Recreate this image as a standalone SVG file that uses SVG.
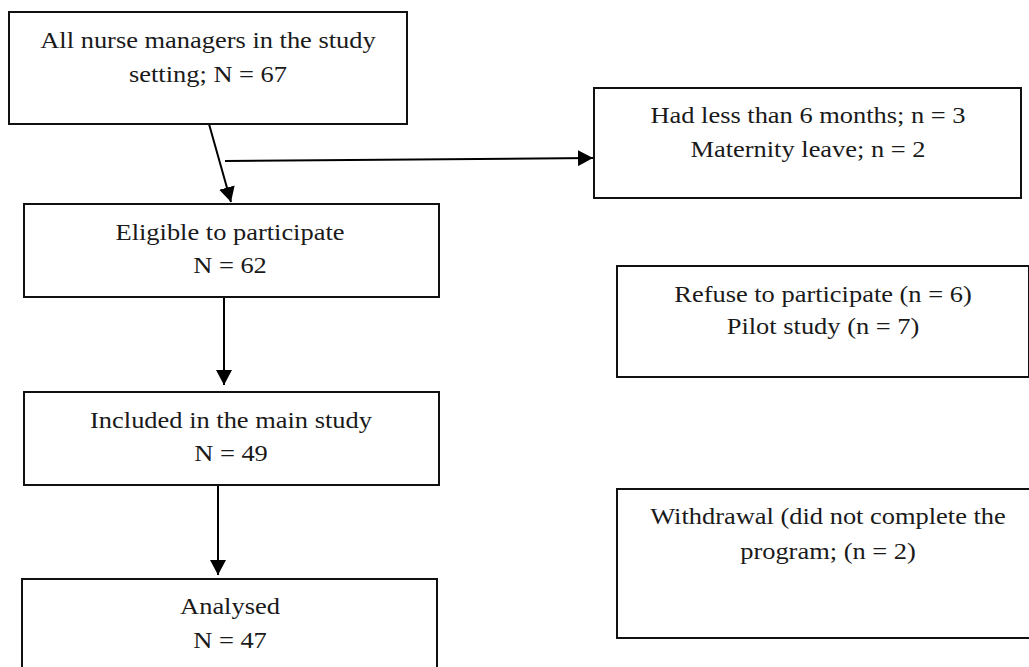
<svg xmlns="http://www.w3.org/2000/svg" width="1029" height="667" viewBox="0 0 1029 667">
<style>
.box{fill:#fff;stroke:#111;stroke-width:2}
.t{font-family:"Liberation Serif","Times New Roman",serif;font-size:23px;fill:#1a1a1a;text-anchor:middle}
.c{stroke:#000;stroke-width:2;fill:none}
</style>
<defs>
<marker id="ah" viewBox="0 0 15 16" refX="15" refY="8" markerWidth="15" markerHeight="16" markerUnits="userSpaceOnUse" orient="auto">
<path d="M0,0 L15,8 L0,16 Z" fill="#000"/>
</marker>
</defs>
<rect width="1029" height="667" fill="#fff"/>
<g id="connectors">
<line class="c" x1="209" y1="124" x2="231" y2="202" marker-end="url(#ah)"/>
<line class="c" x1="225" y1="161" x2="593" y2="158" marker-end="url(#ah)"/>
<line class="c" x1="224" y1="297" x2="224" y2="385" marker-end="url(#ah)"/>
<line class="c" x1="218" y1="485" x2="218" y2="575" marker-end="url(#ah)"/>
</g>
<g id="n1">
<rect class="box" x="9" y="12" width="398" height="112"/>
<text class="t" transform="translate(208,48) scale(1.15,1)">All nurse managers in the study</text>
<text class="t" transform="translate(208,82) scale(1.15,1)">setting; N = 67</text>
</g>
<g id="n2">
<rect class="box" x="24" y="204" width="415" height="93"/>
<text class="t" transform="translate(230,240) scale(1.15,1)">Eligible to participate</text>
<text class="t" transform="translate(230,273) scale(1.15,1)">N = 62</text>
</g>
<g id="n3">
<rect class="box" x="24" y="392" width="415" height="93"/>
<text class="t" transform="translate(231,428) scale(1.15,1)">Included in the main study</text>
<text class="t" transform="translate(231,461) scale(1.15,1)">N = 49</text>
</g>
<g id="n4">
<rect class="box" x="22" y="579" width="415" height="100"/>
<text class="t" transform="translate(230,614) scale(1.15,1)">Analysed</text>
<text class="t" transform="translate(230,648) scale(1.15,1)">N = 47</text>
</g>
<g id="n5">
<rect class="box" x="594" y="88" width="427" height="110"/>
<text class="t" transform="translate(808,123) scale(1.15,1)">Had less than 6 months; n = 3</text>
<text class="t" transform="translate(808,157) scale(1.15,1)">Maternity leave; n = 2</text>
</g>
<g id="n6">
<rect class="box" x="617" y="266" width="412" height="111"/>
<text class="t" transform="translate(823,302) scale(1.15,1)">Refuse to participate (n = 6)</text>
<text class="t" transform="translate(823,334) scale(1.15,1)">Pilot study (n = 7)</text>
</g>
<g id="n7">
<rect class="box" x="617" y="489" width="413" height="149"/>
<text class="t" transform="translate(828,524) scale(1.15,1)">Withdrawal (did not complete the</text>
<text class="t" transform="translate(828,559) scale(1.15,1)">program; (n = 2)</text>
</g>
</svg>
